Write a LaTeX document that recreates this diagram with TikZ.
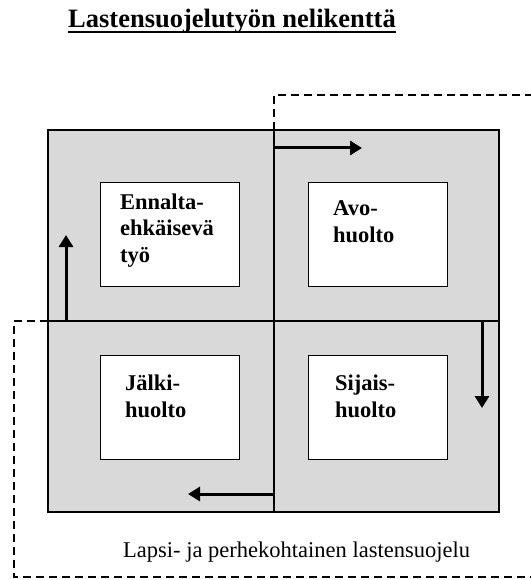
\documentclass[tikz,border=0pt]{standalone}
\usepackage{fontspec}
\setmainfont{Liberation Serif}
\usepackage{tikz}
\usetikzlibrary{positioning, arrows.meta}
\definecolor{fieldgray}{RGB}{217,217,217}
\tikzset{
    fieldbox/.style={draw=black, fill=white, line width=1pt, minimum width=139pt, minimum height=104pt, anchor=north west, inner sep=0pt},
    fieldtext/.style={anchor=base west, align=left, inner sep=0pt, font=\fontsize{22.5}{26.5}\selectfont\bfseries},
    flowarrow/.style={line width=3pt, -{Triangle[length=12pt, width=14pt]}},
    borderdash/.style={line width=2pt, dash pattern=on 8pt off 5pt},
}

\begin{document}
\begin{tikzpicture}[x=1pt, y=-1pt]
                 \useasboundingbox (0,0) rectangle (530,580);

                 \node[anchor=base west, inner sep=0pt, font=\fontsize{26.5}{30}\selectfont\bfseries] (title) at (68,28) {Lastensuojelutyön nelikenttä};
                 \draw[line width=1.6pt] ([yshift=-4pt]title.base west) -- ([yshift=-4pt]title.base east);

                 \coordinate (nw) at (48,130);
                 \coordinate (se) at (499,512);
                 \coordinate (top) at (274,130);
                 \coordinate (bottom) at (274,512);
                 \coordinate (left) at (48,321);
                 \coordinate (right) at (499,321);

                 \filldraw[fill=fieldgray, line width=2pt] (nw) rectangle (se);
                 \draw[line width=1.5pt] (top) -- (bottom);
                 \draw[line width=1.5pt] (left) -- (right);

                 \node[fieldbox] (ennalta) at (100,182) {};
                 \node[fieldbox] (avo) at (308,182) {};
                 \node[fieldbox] (jalki) at (100,355) {};
                 \node[fieldbox] (sijais) at (308,355) {};

                 \node[fieldtext] (ennaltatext) at ([xshift=20pt, yshift=-80pt]ennalta.north west) {Ennalta-\\ehkäisevä\\työ};
                 \node[fieldtext] (avotext) at ([xshift=25pt, yshift=-60pt]avo.north west) {Avo-\\huolto};
                 \node[fieldtext] (jalkitext) at ([xshift=25pt, yshift=-62pt]jalki.north west) {Jälki-\\huolto};
                 \node[fieldtext] (sijaistext) at ([xshift=27pt, yshift=-62pt]sijais.north west) {Sijais-\\huolto};

                 \coordinate (upstart) at (66,321);
                 \coordinate (upend) at (66,235);
                 \coordinate (rightstart) at (274,148);
                 \coordinate (rightend) at (362,148);
                 \coordinate (downstart) at (482,321);
                 \coordinate (downend) at (482,408);
                 \coordinate (leftstart) at (274,494);
                 \coordinate (leftend) at (188,494);

                 \draw[flowarrow] (upstart) -- (upend);
                 \draw[flowarrow] (rightstart) -- (rightend);
                 \draw[flowarrow] (downstart) -- (downend);
                 \draw[flowarrow] (leftstart) -- (leftend);

                 \coordinate (dashtop) at (274,95);
                 \coordinate (dashtopend) at (532,95);
                 \coordinate (dashleft) at (14,321);
                 \coordinate (dashcorner) at (14,577);
                 \coordinate (dashbottomend) at (532,577);

                 \draw[borderdash] (top) -- (dashtop) -- (dashtopend);
                 \draw[borderdash] (left) -- (dashleft) -- (dashcorner) -- (dashbottomend);

                 \node[anchor=base west, inner sep=0pt, font=\fontsize{22.5}{27}\selectfont] (caption) at (123,557) {Lapsi- ja perhekohtainen lastensuojelu};
             \end{tikzpicture}
\end{document}
